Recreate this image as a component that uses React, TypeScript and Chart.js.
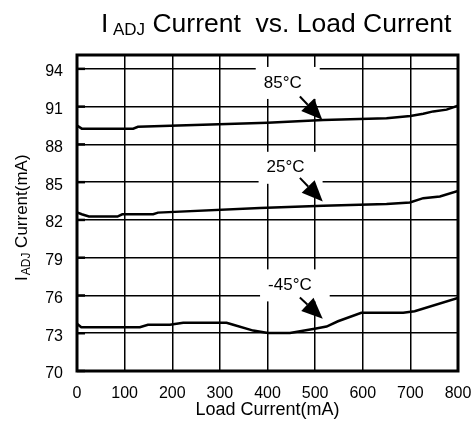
import { useEffect, useRef } from "react";
import { Chart, registerables } from "chart.js";

Chart.register(...registerables);

// Load current (mA) and I_ADJ current (mA) for each temperature
const LOAD_85 = [0, 10, 118, 128, 400, 517, 650, 700, 727, 748, 776, 800];
const IADJ_85 = [89.5, 89.25, 89.25, 89.4, 89.72, 89.93, 90.08, 90.26, 90.44, 90.62, 90.76, 91.08];

const LOAD_25 = [0, 10, 25, 85, 95, 160, 170, 384, 517, 650, 699, 727, 762, 800];
const IADJ_25 = [82.6, 82.45, 82.27, 82.27, 82.45, 82.45, 82.58, 82.94, 83.12, 83.26, 83.38, 83.73, 83.86, 84.31];

const LOAD_M45 = [0, 9, 132, 149, 195, 223, 314, 328, 370, 401, 447, 499, 524, 548, 597, 685, 709, 800];
const IADJ_M45 = [73.75, 73.48, 73.48, 73.67, 73.67, 73.83, 73.83, 73.67, 73.21, 73.02, 73.02, 73.35, 73.53, 73.95, 74.62, 74.62, 74.75, 75.81];

const TEMPS = ["85°C", "25°C", "-45°C"];

const X_TICKS = [0, 100, 200, 300, 400, 500, 600, 700, 800];
const Y_TICKS = [70, 73, 76, 79, 82, 85, 88, 91, 94];
const X_MIN = 0;
const X_MAX = 800;
const Y_MIN = 70;
const Y_MAX = 95.1;

const FONT = "'Liberation Sans', Arial, Helvetica, sans-serif";

// Callout placement for each temperature label, in data units
const CALLOUTS = [
  { text: TEMPS[0], lx: 432, ly: 92.88, tx: 468, ty: 91.8, hx: 515, hy: 89.95 },
  { text: TEMPS[1], lx: 438, ly: 86.14, tx: 468, ty: 85.34, hx: 516, hy: 83.46 },
  { text: TEMPS[2], lx: 447, ly: 76.8, tx: 468, ty: 75.84, hx: 516, hy: 74.15 },
];

const pairs = (xs: number[], ys: number[]) => xs.map((x, i) => ({ x, y: ys[i] }));

const decorations = {
  id: "decorations",
  beforeDatasetsDraw(chart: any) {
    const { ctx, chartArea, scales } = chart;
    const xs = scales.x;
    const ys = scales.y;
    ctx.save();
    // small inner tick marks on the left edge
    ctx.strokeStyle = "#000";
    ctx.lineWidth = 2.5;
    Y_TICKS.forEach((v) => {
      const py = ys.getPixelForValue(v);
      ctx.beginPath();
      ctx.moveTo(chartArea.left, py);
      ctx.lineTo(chartArea.left + 8, py);
      ctx.stroke();
    });
    // white label boxes that interrupt the grid
    ctx.font = `17px ${FONT}`;
    CALLOUTS.forEach((c) => {
      const cx = xs.getPixelForValue(c.lx);
      const cy = ys.getPixelForValue(c.ly);
      const w = ctx.measureText(c.text).width;
      ctx.fillStyle = "#fff";
      ctx.fillRect(cx - w / 2 - 8, cy - 16, w + 26, 32);
    });
    ctx.restore();
  },
  afterDatasetsDraw(chart: any) {
    const { ctx, chartArea, scales } = chart;
    const xs = scales.x;
    const ys = scales.y;
    ctx.save();
    // plot frame
    ctx.strokeStyle = "#000";
    ctx.lineWidth = 3;
    ctx.strokeRect(chartArea.left, chartArea.top, chartArea.right - chartArea.left, chartArea.bottom - chartArea.top);

    // callout labels and arrows
    ctx.fillStyle = "#000";
    ctx.font = `17px ${FONT}`;
    ctx.textAlign = "center";
    ctx.textBaseline = "middle";
    CALLOUTS.forEach((c) => {
      const cx = xs.getPixelForValue(c.lx);
      const cy = ys.getPixelForValue(c.ly);
      ctx.fillText(c.text, cx, cy);
      const x0 = xs.getPixelForValue(c.tx);
      const y0 = ys.getPixelForValue(c.ty);
      const x1 = xs.getPixelForValue(c.hx);
      const y1 = ys.getPixelForValue(c.hy);
      const ang = Math.atan2(y1 - y0, x1 - x0);
      const len = 21;
      const half = 9;
      const bx = x1 - len * Math.cos(ang);
      const by = y1 - len * Math.sin(ang);
      ctx.lineWidth = 2;
      ctx.beginPath();
      ctx.moveTo(x0, y0);
      ctx.lineTo(bx, by);
      ctx.stroke();
      ctx.beginPath();
      ctx.moveTo(x1, y1);
      ctx.lineTo(bx + half * Math.sin(ang), by - half * Math.cos(ang));
      ctx.lineTo(bx - half * Math.sin(ang), by + half * Math.cos(ang));
      ctx.closePath();
      ctx.fill();
    });

    // chart title with subscript
    ctx.textAlign = "left";
    ctx.textBaseline = "alphabetic";
    const base = 32;
    ctx.font = `26.5px ${FONT}`;
    ctx.fillText("I", 101, base);
    ctx.font = `17px ${FONT}`;
    ctx.fillText("ADJ", 113, base + 3);
    const subW = ctx.measureText("ADJ").width;
    ctx.font = `26.5px ${FONT}`;
    ctx.fillText(" Current  vs. Load Current", 113 + subW, base);

    // x axis title
    ctx.textAlign = "center";
    ctx.font = `18px ${FONT}`;
    ctx.fillText("Load Current(mA)", (chartArea.left + chartArea.right) / 2, 415);

    // y axis title, rotated, with subscript
    ctx.translate(27, 281);
    ctx.rotate(-Math.PI / 2);
    ctx.textAlign = "left";
    ctx.font = `17px ${FONT}`;
    ctx.fillText("I", 0, 0);
    const iW = ctx.measureText("I").width;
    ctx.font = `12px ${FONT}`;
    ctx.fillText("ADJ", iW + 1, 3);
    const aW = ctx.measureText("ADJ").width;
    ctx.font = `17px ${FONT}`;
    ctx.fillText(" Current(mA)", iW + 1 + aW, 0);
    ctx.restore();
  },
};

export default function App() {
  const ref = useRef<HTMLCanvasElement | null>(null);

  useEffect(() => {
    document.body.style.margin = "0";
    const canvas = ref.current;
    if (!canvas) return;
    const line = (xs: number[], ys: number[], label: string) => ({
      label,
      data: pairs(xs, ys),
      borderColor: "#000",
      backgroundColor: "#000",
      borderWidth: 2.5,
      pointRadius: 0,
      tension: 0,
      fill: false,
    });
    const chart = new Chart(canvas, {
      type: "line",
      data: {
        datasets: [
          line(LOAD_85, IADJ_85, TEMPS[0]),
          line(LOAD_25, IADJ_25, TEMPS[1]),
          line(LOAD_M45, IADJ_M45, TEMPS[2]),
        ],
      },
      options: {
        animation: false,
        responsive: false,
        devicePixelRatio: 1,
        layout: { padding: { top: 55, right: 15, left: 0, bottom: 0 } },
        plugins: { legend: { display: false }, tooltip: { enabled: false }, title: { display: false } },
        scales: {
          x: {
            type: "linear",
            min: X_MIN,
            max: X_MAX,
            afterBuildTicks: (s: any) => {
              s.ticks = X_TICKS.map((v) => ({ value: v }));
            },
            afterFit: (s: any) => {
              s.height = 61;
              s.paddingLeft = 0;
              s.paddingRight = 0;
            },
            grid: { color: "#000", lineWidth: 1.5, drawTicks: false },
            border: { display: false },
            ticks: {
              color: "#000",
              font: { family: FONT, size: 16 },
              padding: 13,
              maxRotation: 0,
              autoSkip: false,
            },
          },
          y: {
            type: "linear",
            min: Y_MIN,
            max: Y_MAX,
            afterBuildTicks: (s: any) => {
              s.ticks = Y_TICKS.map((v) => ({ value: v }));
            },
            afterFit: (s: any) => {
              s.width = 77;
              s.paddingTop = 0;
              s.paddingBottom = 0;
            },
            grid: { color: "#000", lineWidth: 1.5, drawTicks: false },
            border: { display: false },
            ticks: {
              color: "#000",
              font: { family: FONT, size: 16 },
              padding: 14,
              labelOffset: 3,
              autoSkip: false,
            },
          },
        },
      },
      plugins: [decorations],
    });
    return () => chart.destroy();
  }, []);

  return <canvas ref={ref} width={473} height={432} style={{ display: "block" }} />;
}
